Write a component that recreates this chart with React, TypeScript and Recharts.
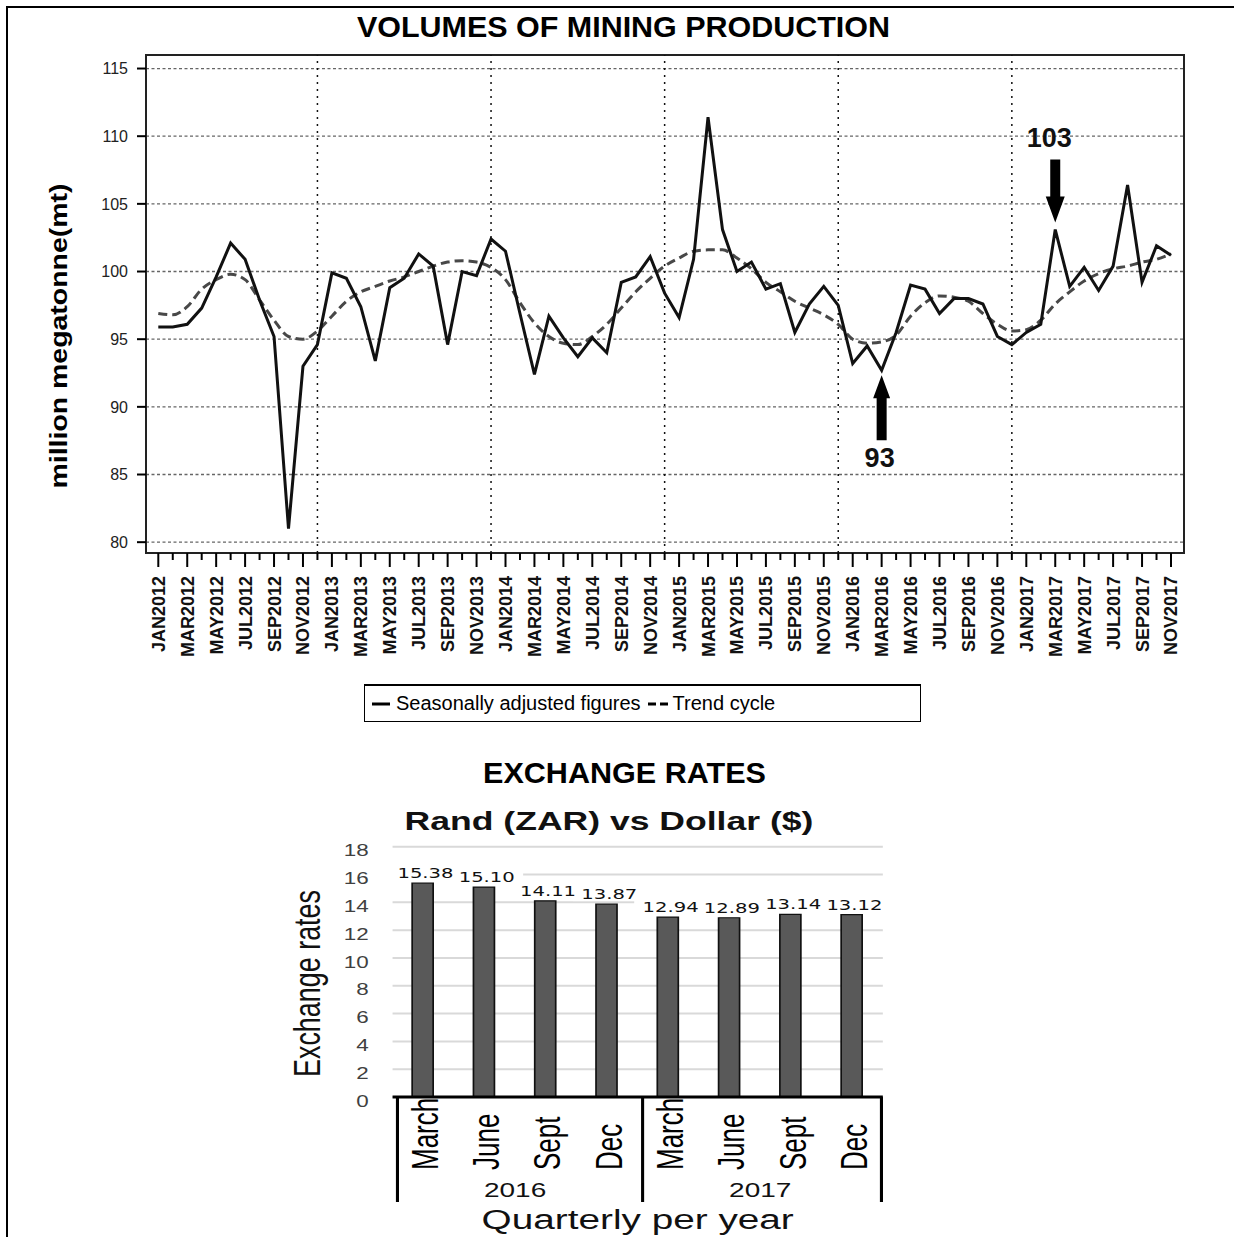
import React from 'react';
import {
  LineChart,
  Line,
  XAxis,
  YAxis,
  CartesianGrid,
  ReferenceLine,
  ReferenceArea,
  ReferenceDot,
  Legend,
  BarChart,
  Bar,
  LabelList,
} from 'recharts';

const FONT = '"Liberation Sans", Arial, sans-serif';

// ---- Mining production (monthly, JAN2012 .. NOV2017) ----
const years = [2012, 2013, 2014, 2015, 2016, 2017];
const monthNames = ['JAN', 'FEB', 'MAR', 'APR', 'MAY', 'JUN', 'JUL', 'AUG', 'SEP', 'OCT', 'NOV', 'DEC'];
const monthLabels = years.flatMap((y) => monthNames.map((m) => `${m}${y}`)).slice(0, 71);

const seasonallyAdjusted = [
  95.9, 95.9, 96.1, 97.3, 99.6, 102.1, 100.9, 97.9, 95.2, 81.0, 93.0, 94.6,
  99.9, 99.5, 97.4, 93.4, 98.8, 99.5, 101.3, 100.4, 94.6, 100.0, 99.7, 102.4,
  101.5, 96.9, 92.4, 96.7, 95.1, 93.7, 95.1, 94.0, 99.2, 99.6, 101.1, 98.4,
  96.6, 100.9, 111.4, 103.1, 100.0, 100.7, 98.7, 99.1, 95.5, 97.6, 98.9, 97.5,
  93.2, 94.5, 92.7, 95.5, 99.0, 98.7, 96.9, 98.0, 98.0, 97.6, 95.2, 94.6,
  95.5, 96.1, 103.1, 98.9, 100.3, 98.6, 100.4, 106.4, 99.2, 101.9, 101.2,
];

const trendCycle = [
  96.9, 96.8, 97.4, 98.7, 99.4, 99.8, 99.4, 97.9, 96.4, 95.2, 95.0, 95.6,
  96.7, 97.8, 98.5, 98.9, 99.3, 99.6, 100.0, 100.4, 100.7, 100.8, 100.7, 100.3,
  99.4, 97.7, 96.2, 95.2, 94.7, 94.6, 95.2, 96.1, 97.3, 98.5, 99.5, 100.4,
  101.0, 101.5, 101.6, 101.6, 101.0, 100.2, 99.2, 98.5, 97.8, 97.3, 96.8, 96.1,
  95.0, 94.7, 94.8, 95.3, 96.7, 97.7, 98.2, 98.1, 97.8, 96.9, 96.1, 95.6,
  95.7, 96.4, 97.6, 98.5, 99.3, 99.85, 100.2, 100.4, 100.7, 100.9, 101.3,
];

const mineTicks = [80, 85, 90, 95, 100, 105, 110, 115];
const decemberLines = ['DEC2012', 'DEC2013', 'DEC2014', 'DEC2015', 'DEC2016'];
const callouts = [
  { month: 'MAR2016', label: '93', dir: 'up' },
  { month: 'MAR2017', label: '103', dir: 'down' },
];

// ---- Exchange rates ----
const quarters = ['March', 'June', 'Sept', 'Dec', 'March', 'June', 'Sept', 'Dec'];
const quarterYears = ['2016', '2016', '2016', '2016', '2017', '2017', '2017', '2017'];
const rates = [15.38, 15.1, 14.11, 13.87, 12.94, 12.89, 13.14, 13.12];
const rateTicks = [0, 2, 4, 6, 8, 10, 12, 14, 16, 18];

const mineRows = monthLabels.map((m, i) => ({
  i,
  month: m,
  sa: seasonallyAdjusted[i],
  trend: trendCycle[i],
}));

const rateRows = quarters.map((q, i) => ({ q, year: quarterYears[i], rate: rates[i] }));

const X_MIN = -0.85;
const X_MAX = 70.9;
const Y_MIN = 79.2;
const Y_MAX = 116;

const MonthTick = (props: any) => {
  const { x, y, payload } = props;
  const i = payload.value;
  const major = i % 2 === 0;
  const tx = x + 6.5;
  const ty = y + 23;
  return (
    <g>
      <line x1={x} y1={y} x2={x} y2={y + (major ? 14 : 7)} stroke="#000" strokeWidth={2} />
      {major && (
        <text
          x={tx}
          y={ty}
          transform={`rotate(-90 ${tx} ${ty})`}
          textAnchor="end"
          fontSize={18}
          fontWeight="bold"
          fontFamily={FONT}
          fill="#111"
        >
          {monthLabels[i]}
        </text>
      )}
    </g>
  );
};

const Callout = (props: any) => {
  const { cx, cy, label, dir } = props;
  if (dir === 'down') {
    const t = cy - 7;
    const pts = [
      [cx, t], [cx - 9.5, t - 26], [cx - 5, t - 26], [cx - 5, t - 63],
      [cx + 5, t - 63], [cx + 5, t - 26], [cx + 9.5, t - 26],
    ].map((p) => p.join(',')).join(' ');
    return (
      <g>
        <polygon points={pts} fill="#000" />
        <text x={cx - 6} y={t - 76} textAnchor="middle" fontSize={27} fontWeight="bold" fontFamily={FONT} fill="#111">
          {label}
        </text>
      </g>
    );
  }
  const t = cy + 5;
  const pts = [
    [cx, t], [cx - 8.5, t + 23], [cx - 5, t + 23], [cx - 5, t + 65],
    [cx + 5, t + 65], [cx + 5, t + 23], [cx + 8.5, t + 23],
  ].map((p) => p.join(',')).join(' ');
  return (
    <g>
      <polygon points={pts} fill="#000" />
      <text x={cx - 2} y={t + 92} textAnchor="middle" fontSize={27} fontWeight="bold" fontFamily={FONT} fill="#111">
        {label}
      </text>
    </g>
  );
};

const MineLegend = (props: any) => {
  const entries = [...(props.payload || [])].sort(
    (a: any, b: any) => (a.dataKey === 'sa' ? 0 : 1) - (b.dataKey === 'sa' ? 0 : 1)
  );
  return (
    <div
      style={{
        boxSizing: 'border-box',
        width: 557,
        height: 38,
        border: '1px solid #000',
        borderTop: '2px solid #000',
        background: '#fff',
        display: 'flex',
        alignItems: 'center',
        paddingLeft: 7,
        fontFamily: FONT,
        fontSize: 20,
        color: '#000',
      }}
    >
      {entries.map((e: any, k: number) => (
        <span key={e.dataKey} style={{ display: 'flex', alignItems: 'center', marginRight: 7 }}>
          <svg width={k === 0 ? 18 : 20} height={6}>
            <line
              x1={0}
              x2={k === 0 ? 18 : 20}
              y1={3}
              y2={3}
              stroke="#000"
              strokeWidth={3}
              strokeDasharray={k === 0 ? undefined : '8 4'}
            />
          </svg>
          <span style={{ marginLeft: k === 0 ? 6 : 5 }}>{e.value}</span>
        </span>
      ))}
    </div>
  );
};

// bar chart internal geometry (the whole block is stretched horizontally)
const BAR_W = 450;
const BAR_H = 437;
const BAR_LEFT = 80.4;
const BAR_RIGHT = 19.4;
const BAND = (BAR_W - BAR_LEFT - BAR_RIGHT) / quarters.length;

const QuarterTick = (props: any) => {
  const { x, y, payload, index } = props;
  const tx = x + 10.5;
  const ty = y + 73;
  return (
    <g>
      <text
        x={tx}
        y={ty}
        transform={`rotate(-90 ${tx} ${ty})`}
        textAnchor="start"
        fontSize={26}
        fontFamily={FONT}
        fill="#000"
      >
        {payload.value}
      </text>
      {index % 4 === 0 && (
        <>
          <line x1={x - BAND / 2 + 3.5} x2={x - BAND / 2 + 3.5} y1={y} y2={y + 105} stroke="#000" strokeWidth={2.2} />
          <text x={x + 1.5 * BAND} y={y + 100} textAnchor="middle" fontSize={20} fontFamily={FONT} fill="#111">
            {quarterYears[index]}
          </text>
        </>
      )}
      {index === quarters.length - 1 && (
        <line x1={x + BAND / 2 - 1} x2={x + BAND / 2 - 1} y1={y} y2={y + 105} stroke="#000" strokeWidth={2.2} />
      )}
    </g>
  );
};

const RateTick = (props: any) => {
  const { x, y, payload } = props;
  return (
    <text x={x} y={y + 4} dy="0.355em" textAnchor="end" fontSize={16} fontFamily={FONT} fill="#404040">
      {payload.value}
    </text>
  );
};

// white box behind each value label (drawn first, so texts never get covered)
const RateLabelBox = (props: any) => {
  const { x, y, width } = props;
  const cx = x + width / 2 + 2;
  const cy = y - 10;
  return <rect x={cx - 26} y={cy - 7} width={52} height={14} fill="#fff" />;
};

const RateLabelText = (props: any) => {
  const { x, y, width, value } = props;
  const cx = x + width / 2 + 2;
  const cy = y - 10;
  return (
    <text x={cx} y={cy + 5} textAnchor="middle" fontSize={14} fontFamily='"DejaVu Sans", sans-serif' fill="#111">
      {Number(value).toFixed(2)}
    </text>
  );
};

export default function App() {
  return (
    <div
      style={{
        position: 'absolute',
        left: 0,
        top: 0,
        width: 1234,
        height: 1237,
        background: '#fff',
        overflow: 'hidden',
        fontFamily: FONT,
      }}
    >
      {/* page frame */}
      <div
        style={{
          position: 'absolute',
          left: 6,
          top: 6,
          width: 1240,
          height: 1240,
          borderTop: '2px solid #000',
          borderLeft: '2px solid #000',
        }}
      />

      <div style={{ position: 'absolute', left: 0, top: 0 }}>
        <LineChart width={1234} height={740} data={mineRows} margin={{ top: 55, right: 50, bottom: 0, left: 0 }}>
          <CartesianGrid vertical={false} stroke="#666" strokeDasharray="3 2.5" strokeWidth={1.3} />
          {decemberLines.map((m) => (
            <ReferenceLine
              key={m}
              x={monthLabels.indexOf(m)}
              stroke="#111"
              strokeWidth={1.5}
              strokeDasharray="2 5"
            />
          ))}
          <XAxis
            dataKey="i"
            type="number"
            domain={[X_MIN, X_MAX]}
            ticks={mineRows.map((r) => r.i)}
            interval={0}
            height={187}
            tickSize={0}
            tickMargin={0}
            axisLine={false}
            tickLine={false}
            tick={<MonthTick />}
          />
          <YAxis
            type="number"
            domain={[Y_MIN, Y_MAX]}
            ticks={mineTicks}
            width={146}
            axisLine={false}
            tickSize={9}
            tickMargin={9}
            tickLine={{ stroke: '#000', strokeWidth: 2 }}
            tick={{ fontSize: 16, fill: '#222', fontFamily: FONT }}
          />
          <Line
            type="monotone"
            dataKey="trend"
            name="Trend cycle"
            stroke="#484848"
            strokeWidth={3}
            strokeDasharray="9 5"
            dot={false}
            isAnimationActive={false}
          />
          <Line
            type="linear"
            dataKey="sa"
            name="Seasonally adjusted figures"
            stroke="#111"
            strokeWidth={3}
            dot={false}
            isAnimationActive={false}
          />
          <ReferenceArea x1={X_MIN} x2={X_MAX} y1={Y_MIN} y2={Y_MAX} fill="none" stroke="#222" strokeWidth={2} />
          {callouts.map((c) => {
            const idx = monthLabels.indexOf(c.month);
            return (
              <ReferenceDot
                key={c.month}
                x={idx}
                y={seasonallyAdjusted[idx]}
                r={0}
                shape={(p: any) => <Callout {...p} label={c.label} dir={c.dir} />}
              />
            );
          })}
          <Legend
            layout="horizontal"
            verticalAlign="middle"
            align="center"
            content={<MineLegend />}
            wrapperStyle={{ position: 'absolute', left: 364, top: 684, width: 557, height: 38 }}
          />
        </LineChart>
      </div>

      {/* exchange rates block, stretched horizontally like the source */}
      <div
        style={{
          position: 'absolute',
          left: 280,
          top: 800,
          width: BAR_W,
          height: BAR_H,
          transform: 'scaleX(1.4)',
          transformOrigin: '0 0',
        }}
      >
        <BarChart
          width={BAR_W}
          height={BAR_H}
          data={rateRows}
          margin={{ top: 46.7, right: BAR_RIGHT, bottom: 0, left: BAR_LEFT - 60 }}
        >
          <CartesianGrid vertical={false} stroke="#d9d9d9" strokeWidth={2} />
          <XAxis
            dataKey="q"
            height={140}
            interval={0}
            tickSize={0}
            tickMargin={0}
            tickLine={false}
            axisLine={{ stroke: '#000', strokeWidth: 3 }}
            tick={<QuarterTick />}
          />
          <YAxis
            type="number"
            domain={[0, 18]}
            ticks={rateTicks}
            width={60}
            axisLine={false}
            tickLine={false}
            tickSize={0}
            tickMargin={17}
            tick={<RateTick />}
          />
          <Bar dataKey="rate" fill="#595959" stroke="#111" strokeWidth={1.2} barSize={15} isAnimationActive={false}>
            <LabelList dataKey="rate" content={<RateLabelBox />} />
            <LabelList dataKey="rate" content={<RateLabelText />} />
          </Bar>
        </BarChart>
        <svg
          width={BAR_W}
          height={BAR_H}
          style={{ position: 'absolute', left: 0, top: 0, pointerEvents: 'none' }}
        >
          <text x={235} y={30} textAnchor="middle" fontSize={25} fontWeight="bold" fontFamily={FONT} fill="#111"
            textLength={292} lengthAdjust="spacingAndGlyphs">
            Rand (ZAR) vs Dollar ($)
          </text>
          <text
            x={28.6}
            y={183.5}
            transform="rotate(-90 28.6 183.5)"
            textAnchor="middle"
            fontSize={27}
            fontFamily={FONT}
            fill="#111"
            textLength={187}
            lengthAdjust="spacingAndGlyphs"
          >
            Exchange rates
          </text>
          <text x={255.5} y={429} textAnchor="middle" fontSize={27} fontFamily={FONT} fill="#111"
            textLength={223} lengthAdjust="spacingAndGlyphs">
            Quarterly per year
          </text>
        </svg>
      </div>

      {/* titles */}
      <svg width={1234} height={1237} style={{ position: 'absolute', left: 0, top: 0, pointerEvents: 'none' }}>
        <text x={623.5} y={37} textAnchor="middle" fontSize={30} fontWeight="bold" fontFamily={FONT} fill="#000"
          textLength={533} lengthAdjust="spacingAndGlyphs">
          VOLUMES OF MINING PRODUCTION
        </text>
        <text
          x={67}
          y={336}
          transform="rotate(-90 67 336)"
          textAnchor="middle"
          fontSize={24}
          fontWeight="bold"
          fontFamily={FONT}
          fill="#000"
          textLength={305}
          lengthAdjust="spacingAndGlyphs"
        >
          million megatonne(mt)
        </text>
        <text x={624.5} y={783} textAnchor="middle" fontSize={30} fontWeight="bold" fontFamily={FONT} fill="#000"
          textLength={283} lengthAdjust="spacingAndGlyphs">
          EXCHANGE RATES
        </text>
      </svg>
    </div>
  );
}
